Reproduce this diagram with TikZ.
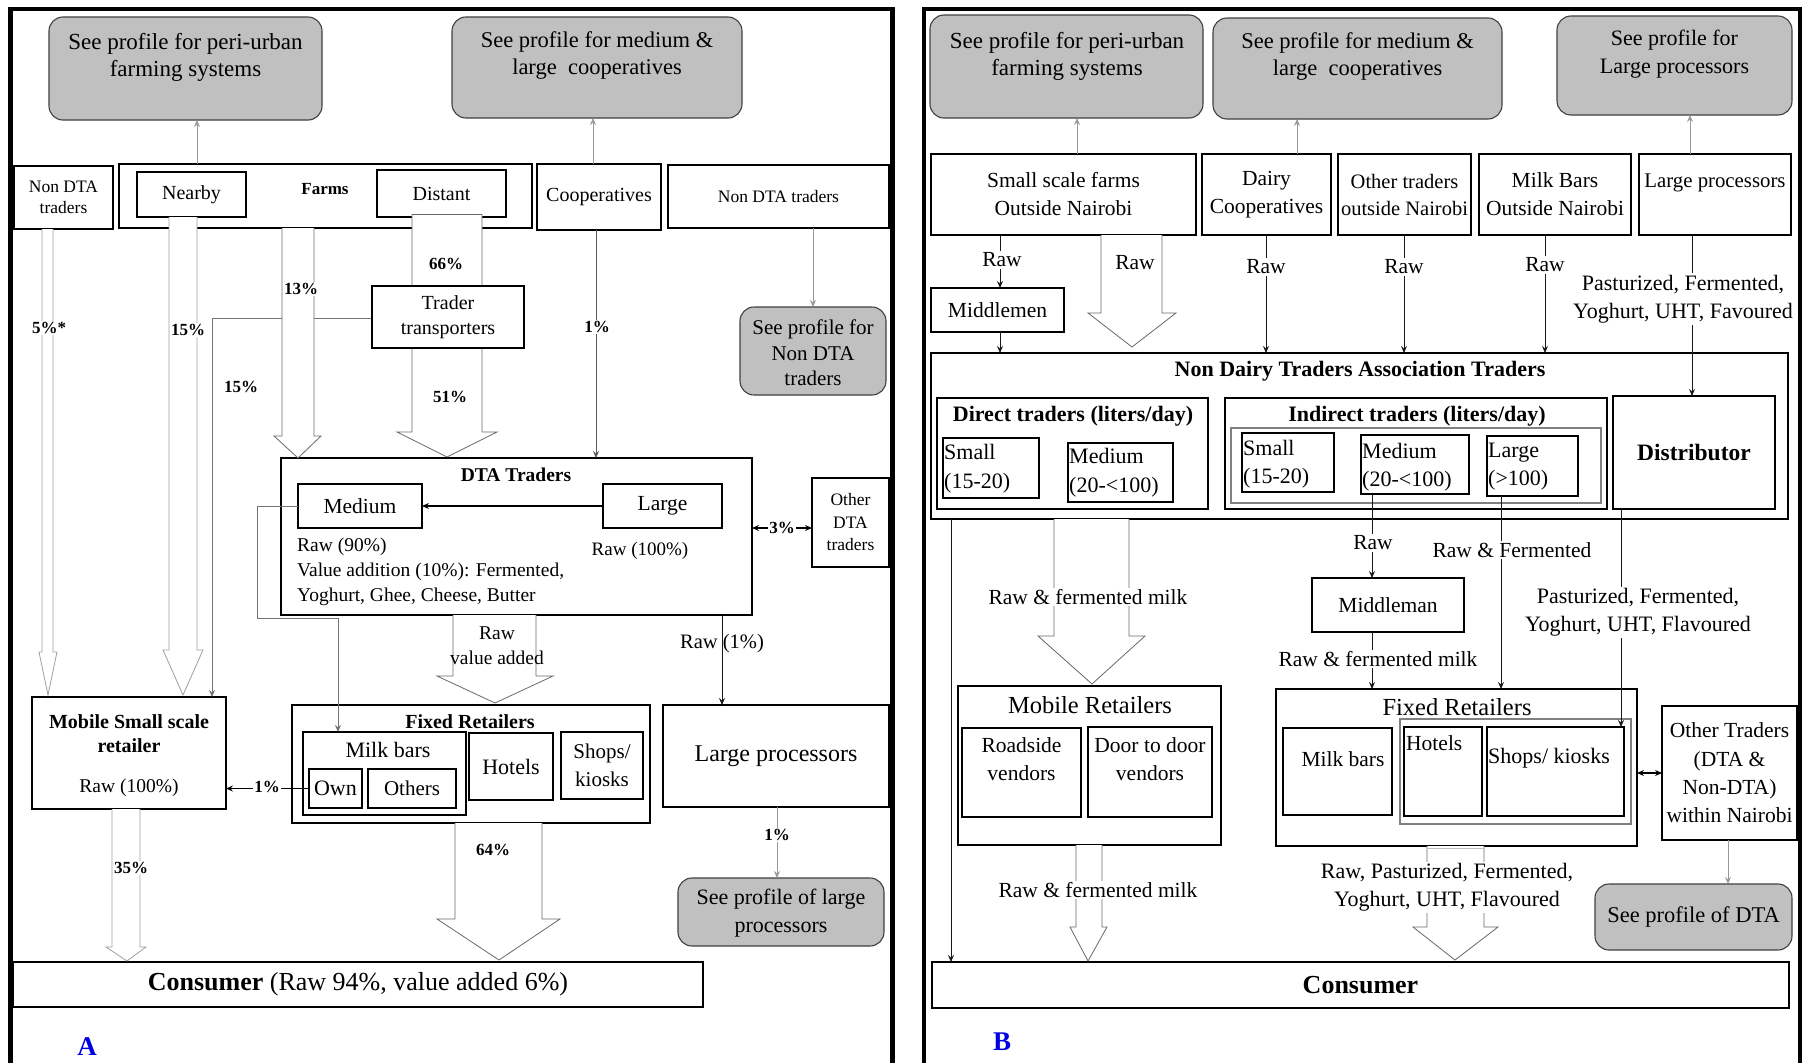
\documentclass[tikz,border=0pt]{standalone}
\usepackage{fontspec}
\setmainfont{Liberation Serif}
\usetikzlibrary{arrows.meta,calc}

\definecolor{profgray}{RGB}{192,192,192}
\definecolor{lightarr}{RGB}{160,160,160}
\definecolor{midarr}{RGB}{105,105,105}
\definecolor{tagblue}{RGB}{0,0,230}

% rectangle node from its top-left and bottom-right corners
\newcommand\bx[7][]{%
  \pgfmathsetmacro\bxw{#5-#3}%
  \pgfmathsetmacro\bxh{#6-#4}%
  \node[box,#1,anchor=north west,minimum width=\bxw pt,minimum height=\bxh pt] (#2) at (#3,#4) {#7};%
}
% hollow block arrow: shaft xl..xr from ytop to yh, head hl..hr, tip (tx,ty)
\newcommand\blkarrow[9][]{%
  \draw[blk,#1] (#2,#4) -- (#2,#5) -- (#6,#5) -- (#8,#9) -- (#7,#5) -- (#3,#5) -- (#3,#4);%
}

\tikzset{
  every node/.style={inner sep=0pt},
  fs/.style 2 args={font=\fontsize{#1}{#2}\selectfont},
  fsb/.style 2 args={font=\fontsize{#1}{#2}\selectfont\bfseries},
  box/.style={rectangle, draw=black, line width=1.5pt, fill=white, inner sep=0pt, outer sep=0pt, align=center},
  thinbox/.style={box, line width=1.2pt},
  graybox/.style={box, draw=black!75, fill=profgray, line width=1.1pt, rounded corners=14pt},
  innerline/.style={box, draw=black!50, line width=1.3pt},
  blk/.style={draw=midarr, line width=0.8pt, fill=white},
  blklight/.style={blk, draw=lightarr},
  conn/.style={->, draw=black!90, line width=0.9pt},
  refconn/.style={->, draw=black!40, line width=0.7pt},
  grayconn/.style={->, draw=black!55, line width=0.9pt},
  dbl/.style={<->, draw=black, line width=1.3pt},
  pct/.style={fsb={17}{20}, fill=white, inner sep=1.5pt},
  lab/.style={fill=white, inner sep=1.5pt, align=center},
}

\begin{document}
\begin{tikzpicture}[x=1pt,y=-1pt,>={Stealth[length=7pt,width=6pt,inset=2.5pt]}]
\useasboundingbox (0,0) rectangle (1805,1063);
\fill[white] (0,0) rectangle (1805,1063);

% ---------- panel frames ----------
\draw[line width=4.5pt] (10.5,1063) -- (10.5,9) -- (892.5,9) -- (892.5,1063);
\draw[line width=4.5pt] (924,1063) -- (924,9) -- (1800,9) -- (1800,1063);

% ================= PANEL A =================
\bx[graybox]{profA1}{49}{17}{322}{120}{}
\bx[graybox]{profA2}{452}{17}{742}{118}{}
\bx[graybox]{profA3}{740}{307}{886}{395}{}
\bx[graybox]{profA4}{678}{878}{884}{946}{}
\bx[thinbox,fs={17.5}{21}]{nondtaL}{14}{166}{113}{229}{Non DTA\\traders}
\bx{farms}{119}{164}{532}{228}{}
\bx[thinbox,fs={20}{24}]{nearby}{137}{172}{246}{217}{Nearby}
\bx[thinbox,fs={20}{24}]{distant}{377}{170}{506}{217}{Distant}
\bx[thinbox,fs={20}{24}]{coop}{537}{164}{661}{230}{Cooperatives}
\bx[thinbox,fs={17.5}{21}]{nondtaR}{668}{165}{889}{228}{Non DTA traders}
\bx{dta}{281}{458}{752}{615}{}
\bx[thinbox,fs={21.5}{25}]{medium}{298}{484}{422}{528}{Medium}
\bx[thinbox,fs={21.5}{25}]{large}{603}{484}{722}{528}{Large}
\bx[thinbox,fs={17.5}{22.5}]{otherdta}{812}{478}{889}{567}{Other\\DTA\\traders}
\bx[fs={24}{28}]{largeproc}{663}{705}{889}{807}{Large processors}
\bx{fixedA}{292}{705}{650}{823}{}
\bx[thinbox]{milkbars}{303}{732}{466}{815}{}
\bx[thinbox,fs={22}{26}]{own}{309}{769}{362}{808}{Own}
\bx[thinbox,fs={21}{25}]{others}{368}{769}{456}{808}{Others}
\bx[thinbox,fs={22}{26}]{hotels}{469}{733}{553}{800}{Hotels}
\bx[thinbox,fs={21}{28}]{shops}{561}{732}{643}{799}{Shops/\\kiosks}
\bx{mobile}{32}{697}{226}{809}{}
\bx[fs={26}{30}]{consA}{13}{962}{703}{1007}{\textbf{Consumer} (Raw 94\%, value added 6\%)}

% ================= PANEL B =================
\bx[graybox]{profB1}{930}{15}{1203}{118}{}
\bx[graybox]{profB2}{1213}{18}{1502}{119}{}
\bx[graybox]{profB3}{1557}{16}{1792}{115}{}
\bx[thinbox,fs={21.5}{28}]{smallfarms}{931}{154}{1196}{235}{Small scale farms\\Outside Nairobi}
\bx[thinbox,fs={21.5}{28}]{dairy}{1202}{154}{1331}{235}{Dairy\\Cooperatives}
\bx[thinbox,fs={20.5}{27}]{othertr}{1338}{154}{1471}{235}{Other traders\\outside Nairobi}
\bx[thinbox,fs={21.5}{28}]{milkbarsO}{1479}{154}{1631}{235}{Milk Bars\\Outside Nairobi}
\bx[thinbox]{largepB}{1639}{154}{1791}{235}{}
\bx[thinbox,fs={21.5}{25}]{middlemen}{931}{288}{1064}{332}{Middlemen}
\bx[thinbox]{ndta}{931}{353}{1788}{519}{}
\bx{direct}{937}{398}{1208}{509}{}
\bx[thinbox]{smallD}{943}{438}{1039}{498}{}
\bx[thinbox]{mediumD}{1068}{443}{1173}{502}{}
\bx{indirect}{1225}{398}{1607}{509}{}
\bx[innerline]{indinner}{1231}{428}{1601}{503}{}
\bx[thinbox]{smallI}{1242}{433}{1334}{492}{}
\bx[thinbox]{mediumI}{1361}{435}{1469}{494}{}
\bx[thinbox]{largeI}{1487}{436}{1578}{496}{}
\bx[thinbox,fsb={23.5}{27}]{distributor}{1613}{396}{1775}{509}{Distributor}
\bx[thinbox,fs={21.5}{25}]{middleman}{1312}{578}{1464}{632}{Middleman}
\bx{mobileR}{958}{686}{1221}{845}{}
\bx{roadside}{962}{728}{1081}{817}{}
\bx{door}{1088}{727}{1212}{817}{}
\bx[thinbox]{fixedB}{1276}{689}{1637}{846}{}
\bx{milkbarsB}{1283}{728}{1392}{815}{}
\bx[innerline]{innerB}{1400}{719}{1631}{824}{}
\bx{hotelsB}{1404}{727}{1482}{816}{}
\bx{shopsB}{1487}{727}{1624}{816}{}
\bx[fs={21.5}{28.3}]{otherB}{1662}{706}{1797}{840}{Other Traders\\(DTA \&\\Non-DTA)\\within Nairobi}
\bx[graybox,fs={22.5}{26}]{profB4}{1595}{884}{1792}{950}{See profile of DTA}
\bx{consB}{932}{962}{1789}{1008}{}

% ---------- thin connectors, panel A ----------
\coordinate (cNearbyUp) at (197,0);
\coordinate (cCoopUp) at (593,0);
\coordinate (cNonDta) at (813,0);
\coordinate (traderW) at (372,318);
\coordinate (cTT) at (212,318);
\coordinate (cCoopDown) at (596,0);
\coordinate (cMedL) at (257,618);
\coordinate (cMedR) at (338,618);
\coordinate (cThree) at (0,528);
\coordinate (cRawOne) at (722,0);
\coordinate (cLPdown) at (777,0);

\draw[refconn] (cNearbyUp |- farms.north) -- (cNearbyUp |- profA1.south);
\draw[refconn] (cCoopUp |- coop.north) -- (cCoopUp |- profA2.south);
\draw[refconn] (cNonDta |- nondtaR.south) -- (cNonDta |- profA3.north);
\draw[grayconn] (traderW) -- (cTT) -- (cTT |- mobile.north);
\draw[conn,draw=black!65] (cCoopDown |- coop.south) -- (cCoopDown |- dta.north);
\draw[conn,draw=black,line width=1.3pt] (large.west) -- (medium.east);
\draw[grayconn] (medium.west) -- (medium.west -| cMedL) -- (cMedL) -- (cMedR) -- (cMedR |- milkbars.north);
\draw[dbl] (dta.east |- cThree) -- (otherdta.west |- cThree);
\draw[conn] (cRawOne |- dta.south) -- (cRawOne |- largeproc.north);
\draw[refconn] (cLPdown |- largeproc.south) -- (cLPdown |- profA4.north);
\draw[conn,draw=black,line width=1.2pt] (own.west) -- (mobile.east |- own.west);

% ---------- thin connectors, panel B ----------
\coordinate (cSFup) at (1077,0);
\coordinate (cDup) at (1297,0);
\coordinate (cLPup) at (1690,0);
\coordinate (cSF) at (1000,0);
\coordinate (cD) at (1266,0);
\coordinate (cOT) at (1404,0);
\coordinate (cMB) at (1545,0);
\coordinate (cLPB) at (1692,0);
\coordinate (cLeft) at (951,0);
\coordinate (cMid) at (1372,0);
\coordinate (cLI) at (1501,0);
\coordinate (cDist) at (1621,0);
\coordinate (cOB) at (1728,0);
\coordinate (cFO) at (0,773);

\draw[refconn] (cSFup |- smallfarms.north) -- (cSFup |- profB1.south);
\draw[refconn] (cDup |- dairy.north) -- (cDup |- profB2.south);
\draw[refconn] (cLPup |- largepB.north) -- (cLPup |- profB3.south);
\draw[conn] (cSF |- smallfarms.south) -- (cSF |- middlemen.north);
\draw[conn] (cSF |- middlemen.south) -- (cSF |- ndta.north);
\draw[conn] (cD |- dairy.south) -- (cD |- ndta.north);
\draw[conn] (cOT |- othertr.south) -- (cOT |- ndta.north);
\draw[conn] (cMB |- milkbarsO.south) -- (cMB |- ndta.north);
\draw[conn] (cLPB |- largepB.south) -- (cLPB |- distributor.north);
\draw[conn] (cLeft |- ndta.south) -- (cLeft |- consB.north);
\draw[conn] (cMid |- mediumI.south) -- (cMid |- middleman.north);
\draw[conn] (cMid |- middleman.south) -- (cMid |- fixedB.north);
\draw[conn] (cLI |- largeI.south) -- (cLI |- fixedB.north);
\draw[conn] (cDist |- distributor.south) -- (cDist |- shopsB.north);
\draw[dbl] (fixedB.east |- cFO) -- (otherB.west |- cFO);
\draw[refconn] (cOB |- otherB.south) -- (cOB |- profB4.north);

% ---------- block arrows ----------
\blkarrow[blklight]{42}{53}{229}{652}{39}{57}{48}{695}
\blkarrow[blklight]{169}{197}{217}{650}{163}{203}{183}{695}
\blkarrow{282}{314}{228}{436}{274}{321}{298}{458}
\blkarrow{412}{482}{214}{432}{397}{497}{447}{457}
\draw[blk] (412,214) -- (482,214);
\blkarrow{453}{536}{615}{676}{437}{553}{495}{703}
\blkarrow[blklight]{112}{140}{809}{947}{106}{146}{127}{961}
\blkarrow{455}{542}{823}{919}{437}{560}{499}{960}

\blkarrow{1101}{1162}{235}{313}{1088}{1176}{1132}{347}
\blkarrow{1054}{1129}{519}{636}{1038}{1145}{1092}{684}
\blkarrow{1076}{1102}{845}{927}{1070}{1107}{1088}{961}
\blkarrow{1427}{1484}{846}{927}{1413}{1498}{1455}{960}
\draw[draw=black!25,line width=0.8pt] (1427,848.5) -- (1484,848.5);

% trader box sits on top of the 66%/51% arrow
\bx[thinbox,fs={20}{25}]{trader}{372}{286}{524}{348}{Trader\\transporters}

% ---------- texts, panel A ----------
\node[fs={23}{27},align=center] (tA1) at (185.5,57) {See profile for peri-urban\\farming systems};
\node[fs={22.5}{27},align=center] (tA2) at (597,56) {See profile for medium \&\\large\ \ cooperatives};
\node[fs={21}{25.5},align=center] (tA3) at (813,353) {See profile for\\Non DTA\\traders};
\node[fs={22}{28},align=center] (tA4) at (781,913) {See profile of large\\processors};
\node[fsb={17}{20}] (tFarms) at (325,189) {Farms};
\node[fsb={19.5}{23}] (tDTA) at (516,475) {DTA Traders};
\node[fs={19.5}{25},align=left,anchor=west] (tMedOut) at (297,572) {Raw (90\%)\\Value addition (10\%): Fermented,\\Yoghurt, Ghee, Cheese, Butter};
\node[fs={19}{23}] (tLargeOut) at (640,551) {Raw (100\%)};
\node[fsb={20}{24}] (tFixedA) at (470,722) {Fixed Retailers};
\node[fs={22}{26}] (tMilk) at (388,750) {Milk bars};
\node[fsb={20}{24},align=center] (tMobile) at (129,734) {Mobile Small scale\\retailer};
\node[fs={19.5}{23}] (tMobileRaw) at (129,788) {Raw (100\%)};
\node[fs={19.5}{25},align=center] (tRVA) at (497,646) {Raw\\value added};
\node[fs={20.5}{24}] (tRawOne) at (722,644) {Raw (1\%)};
\node[pct] (p5) at (49,328) {5\%*};
\node[pct] (p15a) at (188,330) {15\%};
\node[pct] (p13) at (301,289) {13\%};
\node[pct] (p66) at (446,264) {66\%};
\node[pct] (p51) at (450,397) {51\%};
\node[pct] (p15b) at (241,387) {15\%};
\node[pct] (p1c) at (597,327) {1\%};
\node[pct] (p3) at (782,528) {3\%};
\node[pct] (p1l) at (777,835) {1\%};
\node[pct] (p1o) at (267,787) {1\%};
\node[pct] (p35) at (131,868) {35\%};
\node[pct] (p64) at (493,850) {64\%};
\node[fsb={27}{30},text=tagblue] (tagA) at (87,1047) {A};

% ---------- texts, panel B ----------
\node[fs={23}{27},align=center] (tB1) at (1067,56) {See profile for peri-urban\\farming systems};
\node[fs={22.5}{27},align=center] (tB2) at (1357.5,57) {See profile for medium \&\\large\ \ cooperatives};
\node[fs={22}{28},align=center] (tB3) at (1674.5,54) {See profile for\\Large processors};
\node[fs={20.8}{25}] (tLPB) at (1715,183) {Large processors};
\node[fsb={22}{26}] (tNDTA) at (1360,371) {Non Dairy Traders Association Traders};
\node[fsb={22}{26}] (tDirect) at (1073,416) {Direct traders (liters/day)};
\node[fsb={22}{26}] (tIndirect) at (1417,416) {Indirect traders (liters/day)};
\node[fs={22}{29},align=left,anchor=west] (tSmallD) at (944,468.5) {Small\\(15-20)};
\node[fs={22}{29},align=left,anchor=west] (tMediumD) at (1069,472.5) {Medium\\(20-<100)};
\node[fs={22}{28},align=left,anchor=west] (tSmallI) at (1243,464) {Small\\(15-20)};
\node[fs={22}{28},align=left,anchor=west] (tMediumI) at (1362,467) {Medium\\(20-<100)};
\node[fs={22}{28},align=left,anchor=west] (tLargeI) at (1488,467) {Large\\(>100)};
\node[fs={24.5}{28}] (tMobR) at (1090,705) {Mobile Retailers};
\node[fs={21.5}{28},align=center] (tRoad) at (1021.5,759) {Roadside\\vendors};
\node[fs={21.5}{28},align=center] (tDoor) at (1150,759) {Door to door\\vendors};
\node[fs={24.5}{28}] (tFixedB) at (1457,707) {Fixed Retailers};
\node[fs={21.5}{25}] (tMilkB) at (1343,759) {Milk bars};
\node[fs={21.5}{25},anchor=west] (tHotelsB) at (1406,743) {Hotels};
\node[fs={22}{25},anchor=west] (tShopsB) at (1488,758) {Shops/ kiosks};
\node[fsb={26}{30}] (tConsB) at (1360.5,985) {Consumer};
\node[fsb={27}{30},text=tagblue] (tagB) at (1002,1042) {B};

\node[fs={21.5}{25}] (lRawBlk) at (1135,263) {Raw};
\node[lab,fs={21.5}{25}] (lRawSF) at (1002,260) {Raw};
\node[lab,fs={21.5}{25}] (lRawD) at (1266,267) {Raw};
\node[lab,fs={21.5}{25}] (lRawOT) at (1404,267) {Raw};
\node[lab,fs={21.5}{25}] (lRawMB) at (1545,265) {Raw};
\node[lab,fs={22}{28}] (lPF1) at (1683,299) {Pasturized, Fermented,\\Yoghurt, UHT, Favoured};
\node[lab,fs={21.5}{25}] (lRF1) at (1088,597) {Raw \& fermented milk};
\node[lab,fs={21.5}{25}] (lRawMid) at (1373,543) {Raw};
\node[lab,fs={21.5}{25}] (lRawFerm) at (1512,550) {Raw \& Fermented};
\node[lab,fs={21.5}{25}] (lRF3) at (1378,659) {Raw \& fermented milk};
\node[lab,fs={22}{28}] (lPF2) at (1638,612) {Pasturized, Fermented,\\Yoghurt, UHT, Flavoured};
\node[lab,fs={21.5}{25}] (lRF2) at (1098,890) {Raw \& fermented milk};
\node[lab,fs={22}{28}] (lRP) at (1447,887) {Raw, Pasturized, Fermented,\\Yoghurt, UHT, Flavoured};
\end{tikzpicture}
\end{document}
